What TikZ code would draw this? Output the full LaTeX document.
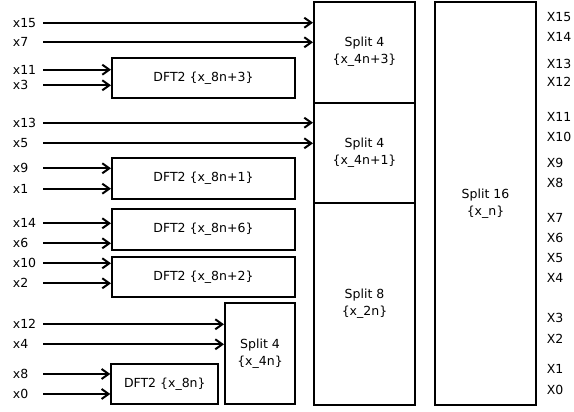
\documentclass[tikz,border=0pt]{standalone}
\usepackage{fontspec}
\setmainfont{DejaVu Sans}
\usetikzlibrary{arrows.meta}
\tikzset{
	box/.style={draw, line width=0.7mm, align=center, inner sep=0pt},
	inlbl/.style={anchor=west, text width=30pt, inner xsep=0pt, inner ysep=2pt, align=left},
	outlbl/.style={anchor=west, inner sep=0pt},
	feed/.style={line width=0.7mm, -{Straight Barb[length=7pt, width=10pt, line width=0.7mm]}}
}

\begin{document}
\begin{tikzpicture}[x=1pt, y=1pt, font=\fontsize{12.5}{17}\selectfont]
		%%%%% START %%%%%
		\useasboundingbox (0, 0) rectangle (574, 412);
		
		% first stage
		\node[box, minimum width=183pt, minimum height=40.6pt] (d3) at (203.5, 334) {DFT2 \{x\_8n+3\}};
		\node[box, minimum width=183pt, minimum height=40.4pt] (d1) at (203.5, 233.5) {DFT2 \{x\_8n+1\}};
		\node[box, minimum width=183pt, minimum height=40.7pt] (d6) at (203.5, 182.3) {DFT2 \{x\_8n+6\}};
		\node[box, minimum width=183pt, minimum height=40.6pt] (d2) at (203.5, 135) {DFT2 \{x\_8n+2\}};
		\node[box, minimum width=107pt, minimum height=40pt] (d0) at (164.8, 28) {DFT2 \{x\_8n\}};
		\node[box, minimum width=70pt, minimum height=100.7pt] (s4n) at (260, 58.3) {Split 4\\\{x\_4n\}};
		
		% second stage
		\node[box, minimum width=101pt, minimum height=101pt] (s43) at (364.5, 359.8) {Split 4\\\{x\_4n+3\}};
		\node[box, minimum width=101pt, minimum height=100.6pt] (s41) at (364.5, 259) {Split 4\\\{x\_4n+1\}};
		\node[box, minimum width=101pt, minimum height=201.7pt] (s2n) at (364.5, 107.8) {Split 8\\\{x\_2n\}};
		
		% last stage
		\node[box, minimum width=101pt, minimum height=403.3pt] (s16) at (485.5, 208.7) {Split 16\\\{x\_n\}};
		
		% inputs
		\node[inlbl] (x15) at (12.7, 389.3) {x15};
		\node[inlbl] (x7) at (12.7, 369.7) {x7};
		\node[inlbl] (x11) at (12.7, 342.3) {x11};
		\node[inlbl] (x3) at (12.7, 326.7) {x3};
		\node[inlbl] (x13) at (12.7, 289.3) {x13};
		\node[inlbl] (x5) at (12.7, 268.7) {x5};
		\node[inlbl] (x9) at (12.7, 243.7) {x9};
		\node[inlbl] (x1) at (12.7, 223.3) {x1};
		\node[inlbl] (x14) at (12.7, 188.7) {x14};
		\node[inlbl] (x6) at (12.7, 168.7) {x6};
		\node[inlbl] (x10) at (12.7, 148.7) {x10};
		\node[inlbl] (x2) at (12.7, 128.7) {x2};
		\node[inlbl] (x12) at (12.7, 87.7) {x12};
		\node[inlbl] (x4) at (12.7, 67.7) {x4};
		\node[inlbl] (x8) at (12.7, 38) {x8};
		\node[inlbl] (x0) at (12.7, 18) {x0};
		
		\draw[feed] (x15.east) -- (x15.east -| s43.west);
		\draw[feed] (x7.east) -- (x7.east -| s43.west);
		\draw[feed] (x11.east) -- (x11.east -| d3.west);
		\draw[feed] (x3.east) -- (x3.east -| d3.west);
		\draw[feed] (x13.east) -- (x13.east -| s41.west);
		\draw[feed] (x5.east) -- (x5.east -| s41.west);
		\draw[feed] (x9.east) -- (x9.east -| d1.west);
		\draw[feed] (x1.east) -- (x1.east -| d1.west);
		\draw[feed] (x14.east) -- (x14.east -| d6.west);
		\draw[feed] (x6.east) -- (x6.east -| d6.west);
		\draw[feed] (x10.east) -- (x10.east -| d2.west);
		\draw[feed] (x2.east) -- (x2.east -| d2.west);
		\draw[feed] (x12.east) -- (x12.east -| s4n.west);
		\draw[feed] (x4.east) -- (x4.east -| s4n.west);
		\draw[feed] (x8.east) -- (x8.east -| d0.west);
		\draw[feed] (x0.east) -- (x0.east -| d0.west);
		
		% outputs
		\node[outlbl] (X15) at (546.7, 394.7) {X15};
		\node[outlbl] (X14) at (546.7, 374.7) {X14};
		\node[outlbl] (X13) at (546.7, 347.7) {X13};
		\node[outlbl] (X12) at (546.7, 330.3) {X12};
		\node[outlbl] (X11) at (546.7, 294.7) {X11};
		\node[outlbl] (X10) at (546.7, 274.7) {X10};
		\node[outlbl] (X9) at (546.7, 248.7) {X9};
		\node[outlbl] (X8) at (546.7, 228.7) {X8};
		\node[outlbl] (X7) at (546.7, 193.7) {X7};
		\node[outlbl] (X6) at (546.7, 174.3) {X6};
		\node[outlbl] (X5) at (546.7, 153.7) {X5};
		\node[outlbl] (X4) at (546.7, 133.7) {X4};
		\node[outlbl] (X3) at (546.7, 93.7) {X3};
		\node[outlbl] (X2) at (546.7, 72.7) {X2};
		\node[outlbl] (X1) at (546.7, 42.7) {X1};
		\node[outlbl] (X0) at (546.7, 22) {X0};
		%%%%% END %%%%%
\end{tikzpicture}
\end{document}
